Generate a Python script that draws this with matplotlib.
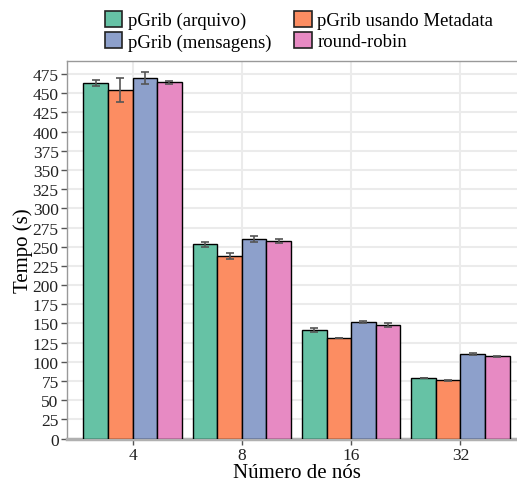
import matplotlib
matplotlib.use("Agg")
import matplotlib.pyplot as plt
from matplotlib.patches import Patch
import numpy as np

plt.rcParams['font.family'] = ['Liberation Serif', 'DejaVu Serif']

nodes = ["4", "8", "16", "32"]
series = ["pGrib (arquivo)", "pGrib usando Metadata", "pGrib (mensagens)", "round-robin"]
colors = ["#66c2a5", "#fc8d62", "#8da0cb", "#e78ac3"]

arquivo = [463, 253, 142, 79]
metadata = [454, 238, 131, 76]
mensagens = [470, 260, 152, 110]
roundrobin = [464, 258, 148, 107]

arquivo_err = [4, 3, 2.5, 0.5]
metadata_err = [16, 3.5, 0.5, 0.5]
mensagens_err = [8, 3.5, 1.5, 1.5]
roundrobin_err = [1.5, 2.5, 2.5, 1]

values = [arquivo, metadata, mensagens, roundrobin]
errors = [arquivo_err, metadata_err, mensagens_err, roundrobin_err]

fig = plt.figure(figsize=(5.17, 4.85), dpi=100)
ax = fig.add_axes([67 / 517, 45 / 485, (526 - 67) / 517, (440 - 62) / 485])

x = np.arange(len(nodes))
width = 0.225
for i, (vals, errs, col) in enumerate(zip(values, errors, colors)):
    pos = x + (i - 1.5) * width
    ax.bar(pos, vals, width=width, color=col, edgecolor="black", linewidth=1.0, zorder=3)
    ax.errorbar(pos, vals, yerr=errs, fmt="none", ecolor="#555555", elinewidth=1.2,
                capsize=3, capthick=1.2, zorder=4)

ax.set_xlim(-0.6, 3.6)
ax.set_ylim(-0.5, 492)
ax.set_xticks(x)
ax.set_xticklabels(nodes)
ax.set_yticks(np.arange(0, 476, 25))
ax.tick_params(axis="both", labelsize=12.5, color="#555555", length=4, width=1,
               labelcolor="#222222", pad=2)
ax.grid(True, color="#ebebeb", linewidth=1.5, zorder=0)
ax.set_axisbelow(True)

for side in ["top", "right"]:
    ax.spines[side].set_color("#999999")
    ax.spines[side].set_linewidth(1)
ax.spines["left"].set_color("#999999")
ax.spines["left"].set_linewidth(1)
ax.spines["bottom"].set_color("#b0b0b0")
ax.spines["bottom"].set_linewidth(2.5)

ax.set_xlabel("Número de nós", fontsize=15, labelpad=0)
ax.set_ylabel("Tempo (s)", fontsize=15, labelpad=0)

handles = [Patch(facecolor=c, edgecolor="#222222", linewidth=1.2) for c in colors]
order = [0, 2, 1, 3]
fig.legend([handles[i] for i in order], [series[i] for i in order], ncol=2,
           loc="upper left", bbox_to_anchor=(97 / 517, 1 - 4 / 485), frameon=False,
           fontsize=13.5, handlelength=0.95, handleheight=0.95, handletextpad=0.3,
           columnspacing=1.2, labelspacing=0.15, borderaxespad=0)

fig.savefig("out.png", dpi=100)
